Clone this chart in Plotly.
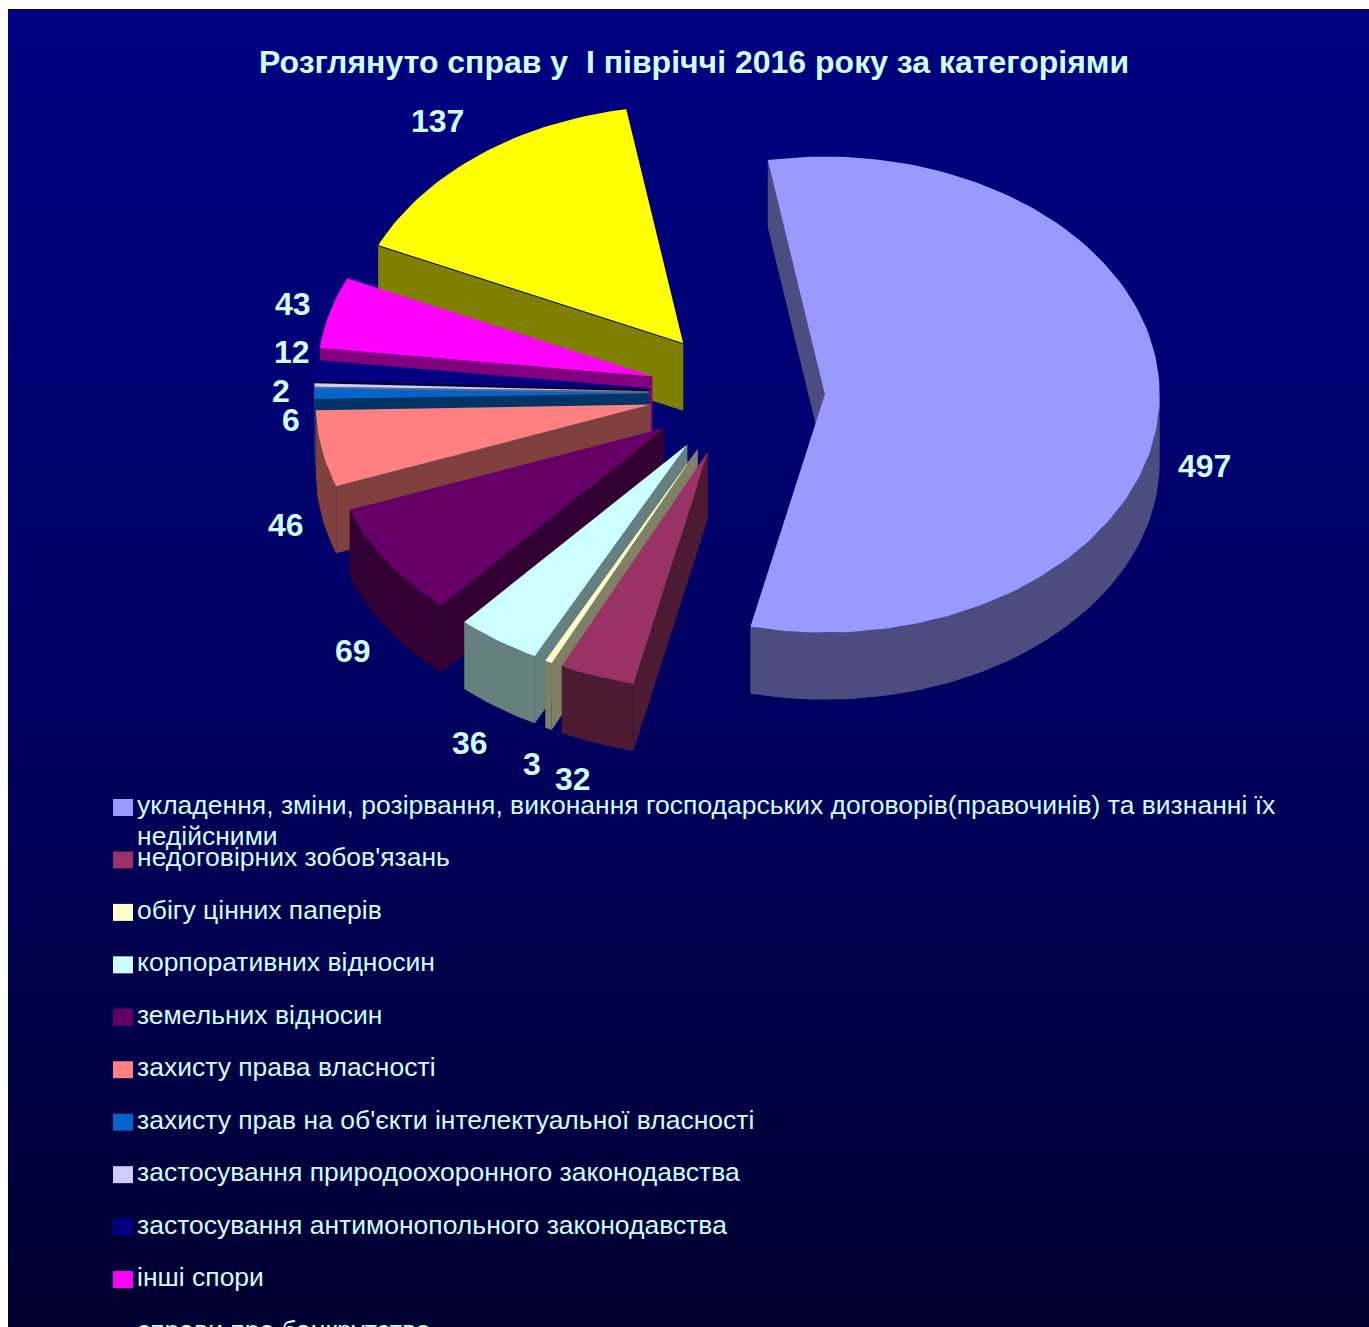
import math
import plotly.graph_objects as go

# --- data ---
title_text = "Розглянуто справ у  І півріччі 2016 року за категоріями"
categories = [
    "укладення, зміни, розірвання, виконання господарських договорів(правочинів) та визнанні їх<br>недійсними",
    "недоговірних зобов'язань",
    "обігу цінних паперів",
    "корпоративних відносин",
    "земельних відносин",
    "захисту права власності",
    "захисту прав на об'єкти інтелектуальної власності",
    "застосування природоохоронного законодавства",
    "застосування антимонопольного законодавства",
    "інші спори",
    "справи про банкрутство",
]
values = [497, 32, 3, 36, 69, 46, 6, 2, 12, 43, 137]
colors = [(153, 153, 255), (153, 51, 102), (255, 255, 204), (204, 255, 255), (102, 0, 102),
          (255, 128, 128), (0, 102, 204), (204, 204, 255), (0, 0, 128), (255, 0, 255), (255, 255, 0)]
label_xy = [(1204, 466), (573, 779), (532, 764), (470, 743), (353, 651), (286, 525),
            (291, 420), (281, 391), (292, 352), (293, 304), (437, 121)]

# --- geometry of the tilted, exploded pie (pixels of the axes below) ---
W, H = 1369, 1327
CX, CY, RX, RY = 737.0, 393.0, 335.0, 238.0
DEPTH, EXPLODE, START = 67.0, 0.262, -9.8
TEXT = "#CCFFFF"
FONT = "Liberation Sans"


def rgb(c, k=1.0):
    return "rgb(%d,%d,%d)" % tuple(round(v * k) for v in c)


def pt(ax, ay, t, r=1.0):
    a = math.radians(t)
    return ax + r * RX * math.sin(a), ay - r * RY * math.cos(a)


def poly(fig, pts, color):
    fig.add_trace(go.Scatter(x=[p[0] for p in pts] + [pts[0][0]], y=[p[1] for p in pts] + [pts[0][1]],
                             mode="lines", fill="toself", fillcolor=color, line=dict(width=0, color=color),
                             hoverinfo="skip", showlegend=False))


total = sum(values)
spans = []
t = START
for v in values:
    spans.append((t, t + v / total * 360))
    t += v / total * 360

fig = go.Figure()

# background gradient as stacked bands
TOP_B, BOT_B = 128, 48
shapes = []
BANDS = 160
for i in range(BANDS):
    y0 = 9 + (H - 9) * i / BANDS
    y1 = 9 + (H - 9) * (i + 1) / BANDS + 1
    b = TOP_B - (TOP_B - BOT_B) * (i / (BANDS - 1)) ** 1.4
    shapes.append(dict(type="rect", xref="x", yref="y", x0=8, x1=W, y0=y0, y1=y1, layer="below",
                       line=dict(width=0), fillcolor="rgb(0,0,%d)" % round(b)))

# slices, back to front: last slice first, running backwards, big slice last
order = list(range(len(values) - 1, -1, -1))
for i in order:
    t0, t1 = spans[i]
    c = colors[i]
    mid = (t0 + t1) / 2
    ax, ay = pt(CX, CY, mid, EXPLODE)
    side = rgb(c, 0.5)
    if math.sin(math.radians(t0)) < 0:
        p = pt(ax, ay, t0)
        poly(fig, [(ax, ay), p, (p[0], p[1] + DEPTH), (ax, ay + DEPTH)], side)
    if math.sin(math.radians(t1)) > 0:
        p = pt(ax, ay, t1)
        poly(fig, [(ax, ay), p, (p[0], p[1] + DEPTH), (ax, ay + DEPTH)], side)
    lo, hi = max(t0, 90), min(t1, 270)
    if hi > lo:
        n = max(2, int((hi - lo) / 1.5) + 2)
        arc = [pt(ax, ay, lo + (hi - lo) * k / (n - 1)) for k in range(n)]
        poly(fig, arc + [(q[0], q[1] + DEPTH) for q in reversed(arc)], side)
    n = max(2, int((t1 - t0) / 1.5) + 2)
    poly(fig, [(ax, ay)] + [pt(ax, ay, t0 + (t1 - t0) * k / (n - 1)) for k in range(n)], rgb(c))
    if i == len(values) - 1:  # hairline between the top and the side of the rear slice
        p = pt(ax, ay, t0)
        fig.add_trace(go.Scatter(x=[ax, p[0]], y=[ay, p[1]], mode="lines", line=dict(width=1, color="#000080"),
                                 hoverinfo="skip", showlegend=False))

annotations = [dict(x=694, y=62, xref="x", yref="y", text="<b>%s</b>" % title_text, showarrow=False,
                    font=dict(family=FONT, size=32, color=TEXT))]
for v, (lx, ly) in zip(values, label_xy):
    annotations.append(dict(x=lx, y=ly, xref="x", yref="y", text="<b>%d</b>" % v, showarrow=False,
                            font=dict(family=FONT, size=32, color=TEXT)))

# legend rows
ROW0, STEP, LINE = 805.0, 52.45, 31.0
for i, (name, c) in enumerate(zip(categories, colors)):
    y = ROW0 + STEP * i
    if y - 6 < H - 8:  # the reference crops the last swatch away
        shapes.append(dict(type="rect", xref="x", yref="y", x0=113, x1=133, y0=y - 6, y1=y + 11, layer="above",
                           line=dict(width=0), fillcolor=rgb(c)))
    for j, part in enumerate(name.split("<br>")):
        annotations.append(dict(x=136, y=y - 16 + j * LINE, xref="x", yref="y", xanchor="left", yanchor="top",
                                align="left", text=part, showarrow=False, borderpad=0,
                                font=dict(family=FONT, size=26.5, color=TEXT)))

fig.update_layout(
    width=W, height=H, margin=dict(l=0, r=0, t=0, b=0), autosize=False,
    paper_bgcolor="white", plot_bgcolor="rgba(0,0,0,0)", shapes=shapes, annotations=annotations,
    showlegend=False,
    xaxis=dict(range=[0, W], visible=False, fixedrange=True),
    yaxis=dict(range=[H, 0], visible=False, fixedrange=True),
)
fig.write_html("out.html", config=dict(displayModeBar=False),
               post_script="document.body.style.margin='0';document.documentElement.style.overflow='hidden';")
